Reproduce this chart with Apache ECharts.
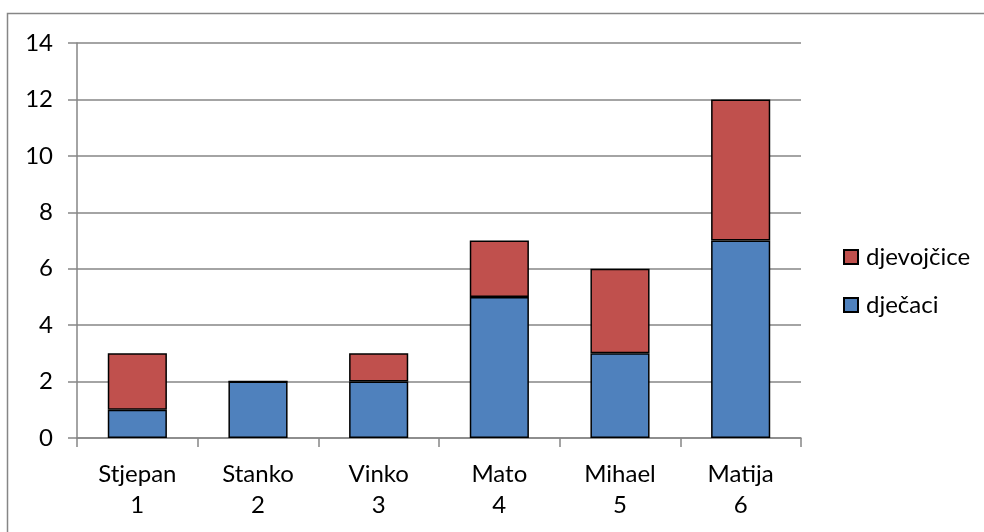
<!DOCTYPE html>
<html>
<head>
<meta charset="utf-8">
<script src="https://cdn.jsdelivr.net/npm/echarts@6/dist/echarts.min.js"></script>
<style>
  html, body { margin: 0; padding: 0; background: #fff; }
  #chart { width: 984px; height: 532px; }
</style>
</head>
<body>
<div id="chart"></div>
<script>
const names = ['Stjepan', 'Stanko', 'Vinko', 'Mato', 'Mihael', 'Matija']
const numbers = ['1', '2', '3', '4', '5', '6']
const djecaci = [1, 2, 2, 5, 3, 7]
const djevojcice = [2, 0, 1, 2, 3, 5]

const categories = names.map((n, i) => n + '\n' + numbers[i])
const axisGray = '#868686'
const font = 'Lato, "Open Sans", sans-serif'

let myChart = echarts.init(document.getElementById('chart'))
let option = {
  animation: false,
  textStyle: { fontFamily: font },
  graphic: [{
    type: 'rect',
    shape: { x: 7.5, y: 13.5, width: 1000, height: 600 },
    style: { fill: 'none', stroke: '#868686', lineWidth: 1.5 },
    silent: true
  }],
  grid: { left: 77, right: 183, top: 43, bottom: 94 },
  legend: {
    orient: 'vertical',
    left: 838,
    top: 240,
    itemWidth: 14,
    itemHeight: 14,
    itemGap: 24,
    icon: 'rect',
    data: ['djevojčice', 'dječaci'],
    textStyle: { fontSize: 24, color: '#000', fontFamily: font, lineHeight: 24, padding: [0, 0, 0, 3] }
  },
  xAxis: {
    type: 'category',
    data: categories,
    axisLine: { lineStyle: { color: axisGray, width: 1.5 } },
    axisTick: { show: true, length: 9, lineStyle: { color: axisGray, width: 1.5 } },
    axisLabel: { color: '#000', fontSize: 24, lineHeight: 31, margin: 21, interval: 0, fontFamily: font },
    splitLine: { show: false }
  },
  yAxis: {
    type: 'value',
    min: 0,
    max: 14,
    interval: 2,
    axisLine: { show: true, lineStyle: { color: axisGray, width: 1.5 } },
    axisTick: { show: true, length: 9, lineStyle: { color: axisGray, width: 1.5 } },
    axisLabel: { color: '#000', fontSize: 24, margin: 24, fontFamily: font },
    splitLine: { lineStyle: { color: axisGray, width: 1.5 } }
  },
  series: [{
    name: 'dječaci',
    type: 'bar',
    stack: 'total',
    data: djecaci,
    barWidth: '49%',
    itemStyle: { color: '#4F81BD', borderColor: '#000', borderWidth: 1.5 }
  }, {
    name: 'djevojčice',
    type: 'bar',
    stack: 'total',
    data: djevojcice,
    barWidth: '49%',
    itemStyle: { color: '#C0504D', borderColor: '#000', borderWidth: 1.5 }
  }]
}
myChart.setOption(option)
</script>
</body>
</html>
